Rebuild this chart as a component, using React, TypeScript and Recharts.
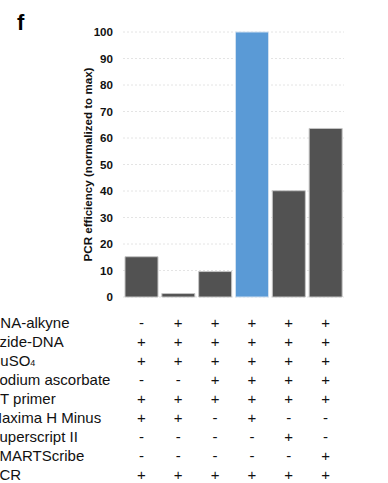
import React from 'react';
import { BarChart, Bar, XAxis, YAxis, CartesianGrid, Cell } from 'recharts';

const categories = ['c1', 'c2', 'c3', 'c4', 'c5', 'c6'];
const efficiency = [15.2, 1.3, 9.6, 100, 40.1, 63.6];
const highlightIndex = 3;
const yTicks = [0, 10, 20, 30, 40, 50, 60, 70, 80, 90, 100];
const yLabel = 'PCR efficiency (normalized to max)';
const panelLetter = 'f';

const conditionLabels = [
  'RNA-alkyne',
  'Azide-DNA',
  'CuSO4',
  'Sodium ascorbate',
  'RT primer',
  'Maxima H Minus',
  'Superscript II',
  'SMARTScribe',
  'PCR',
];
const conditionSigns = [
  ['-', '+', '+', '+', '+', '+'],
  ['+', '+', '+', '+', '+', '+'],
  ['+', '+', '+', '+', '+', '+'],
  ['-', '-', '+', '+', '+', '+'],
  ['+', '+', '+', '+', '+', '+'],
  ['+', '+', '-', '+', '-', '-'],
  ['-', '-', '-', '-', '+', '-'],
  ['-', '-', '-', '-', '-', '+'],
  ['+', '+', '+', '+', '+', '+'],
];

const data = categories.map((name, i) => ({ name, value: efficiency[i] }));

const FONT = '"Liberation Sans", Arial, Helvetica, sans-serif';
const ROW0 = 327.5;
const ROW_STEP = 19.1;
const DARK = '#525252';
const BLUE = '#5A9AD6';

const renderLabel = (text: string) => {
  if (text === 'CuSO4') {
    return (
      <>
        CuSO<tspan fontSize={9}>4</tspan>
      </>
    );
  }
  return text;
};

const TableTick = (props: any) => {
  const { x, index } = props;
  return (
    <g>
      {index === 0 &&
        conditionLabels.map((lab, r) => (
          <text
            key={'l' + r}
            x={-10.5}
            y={ROW0 + r * ROW_STEP}
            fontFamily={FONT}
            fontSize={15}
            fill="#111"
            textAnchor="start"
          >
            {renderLabel(lab)}
          </text>
        ))}
      {conditionSigns.map((row, r) => (
        <text
          key={'s' + r}
          x={x}
          y={ROW0 + r * ROW_STEP}
          fontFamily={FONT}
          fontSize={15}
          fill="#111"
          textAnchor="middle"
        >
          {row[index]}
        </text>
      ))}
    </g>
  );
};

const YTitle = () => (
  <text
    x={87}
    y={164.5}
    transform="rotate(-90, 87, 164.5)"
    textAnchor="middle"
    dominantBaseline="central"
    fontFamily={FONT}
    fontWeight="bold"
    fontSize={11.6}
    fill="#111"
  >
    {yLabel}
  </text>
);

export default function App() {
  return (
    <div style={{ position: 'absolute', left: 0, top: 0, width: 388, height: 483, background: '#fff' }}>
      <BarChart
        width={388}
        height={483}
        data={data}
        margin={{ top: 32, right: 44, bottom: 6, left: 83 }}
        barCategoryGap={2}
      >
        <CartesianGrid vertical={false} stroke="#e4e4e4" strokeDasharray="2 2" />
        <XAxis
          dataKey="name"
          height={180}
          axisLine={false}
          tickLine={false}
          interval={0}
          tick={<TableTick />}
        />
        <YAxis
          width={40}
          domain={[0, 100]}
          ticks={yTicks}
          interval={0}
          axisLine={false}
          tickLine={false}
          tickMargin={4}
          tick={{ fontFamily: FONT, fontWeight: 'bold', fontSize: 11.6, fill: '#111' }}
          label={<YTitle />}
        />
        <Bar dataKey="value" isAnimationActive={false} stroke="#c4c4c4" strokeWidth={1}>
          {data.map((d, i) => (
            <Cell key={d.name} fill={i === highlightIndex ? BLUE : DARK} stroke={i === highlightIndex ? '#d0e0f0' : '#c4c4c4'} />
          ))}
        </Bar>
        <text x={17} y={30} fontFamily={FONT} fontWeight="bold" fontSize={22} fill="#000">
          {panelLetter}
        </text>
      </BarChart>
    </div>
  );
}
